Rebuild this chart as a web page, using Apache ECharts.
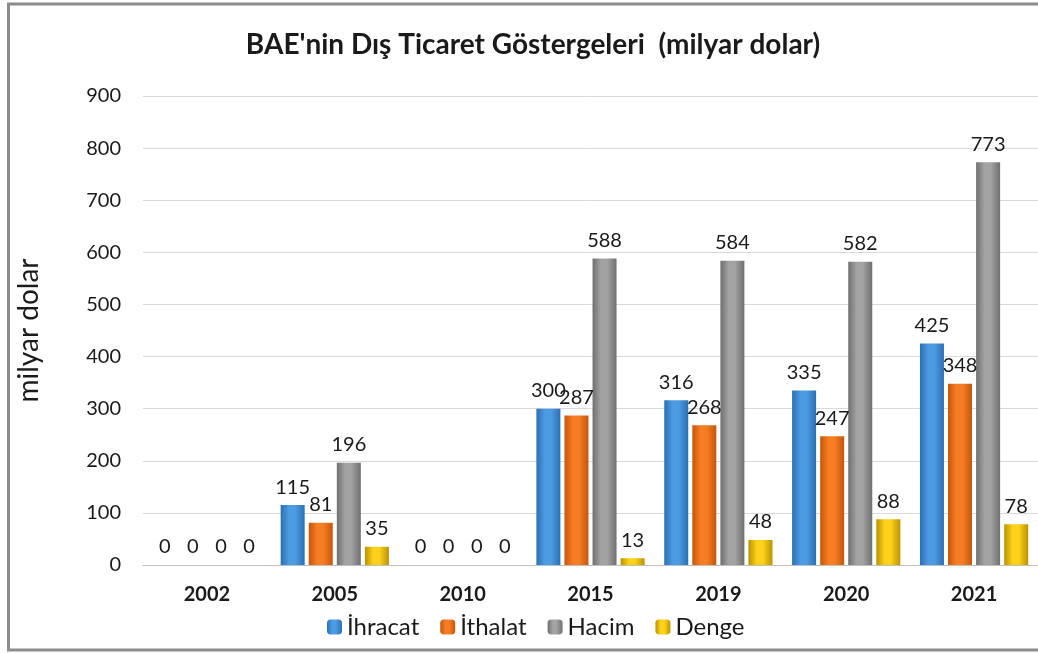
<!DOCTYPE html>
<html>
<head>
<meta charset="utf-8">
<script src="https://cdn.jsdelivr.net/npm/echarts@6/dist/echarts.min.js"></script>
<style>
  html, body { margin: 0; padding: 0; background: #fff; }
  #chart { width: 1038px; height: 653px; }
</style>
</head>
<body>
<div id="chart"></div>
<script>
// yıllar
const years = ["2002", "2005", "2010", "2015", "2019", "2020", "2021"];
// değerler (milyar dolar)
const ihracat = [0, 115, 0, 300, 316, 335, 425];
const ithalat = [0, 81, 0, 287, 268, 247, 348];
const hacim = [0, 196, 0, 588, 584, 582, 773];
const denge = [0, 35, 0, 13, 48, 88, 78];

const FONT = "Lato, 'Open Sans', sans-serif";

function grad(edge, mid) {
  return new echarts.graphic.LinearGradient(0, 0, 1, 0, [
    { offset: 0, color: edge },
    { offset: 0.35, color: mid },
    { offset: 0.6, color: mid },
    { offset: 1, color: edge }
  ]);
}

function makeSeries(name, data, edge, mid) {
  return {
    name: name,
    type: "bar",
    data: data,
    barWidth: 24,
    barGap: "17%",
    itemStyle: { color: grad(edge, mid) },
    label: {
      show: true,
      position: "top",
      distance: 8,
      color: "#1a1a1a",
      fontSize: 20,
      fontFamily: FONT
    }
  };
}

let chart = echarts.init(document.getElementById("chart"));
chart.setOption({
  backgroundColor: "#fff",
  animation: false,
  textStyle: { fontFamily: FONT },
  title: {
    text: "BAE'nin Dış Ticaret Göstergeleri  (milyar dolar)",
    left: 528,
    textAlign: "center",
    top: 26,
    textStyle: { fontSize: 28, fontWeight: "bold", color: "#1a1a1a", fontFamily: FONT }
  },
  legend: {
    bottom: 9,
    left: 322,
    itemWidth: 15,
    itemHeight: 15,
    itemGap: 21,
    textStyle: { fontSize: 24, color: "#1a1a1a", fontFamily: FONT },
    data: ["İhracat", "İthalat", "Hacim", "Denge"]
  },
  grid: { left: 143, right: -4, top: 96, bottom: 88 },
  xAxis: {
    type: "category",
    data: years,
    axisTick: { show: false },
    axisLine: { lineStyle: { color: "#bfbfbf", width: 1 } },
    axisLabel: { fontSize: 20, fontWeight: "bold", color: "#1a1a1a", margin: 20 }
  },
  yAxis: {
    type: "value",
    min: 0,
    max: 900,
    interval: 100,
    name: "milyar dolar",
    nameLocation: "middle",
    nameGap: 100,
    nameRotate: 90,
    nameTextStyle: { fontSize: 28, color: "#1a1a1a", fontFamily: FONT },
    axisLine: { show: false },
    axisTick: { show: false },
    splitLine: { lineStyle: { color: "#d9d9d9", width: 1 } },
    axisLabel: { fontSize: 20, color: "#1a1a1a", margin: 22 }
  },
  series: [
    makeSeries("İhracat", ihracat, "#2c6fb3", "#4c9be3"),
    makeSeries("İthalat", ithalat, "#c5560c", "#f77d22"),
    makeSeries("Hacim", hacim, "#6f6f6f", "#a3a3a3"),
    makeSeries("Denge", denge, "#b89200", "#ffd21a")
  ],
  graphic: [
    {
      type: "rect",
      shape: { x: 8.5, y: 4, width: 1040, height: 646 },
      style: { fill: null, stroke: "#8c8c8c", lineWidth: 3 },
      silent: true
    }
  ]
});
</script>
</body>
</html>
